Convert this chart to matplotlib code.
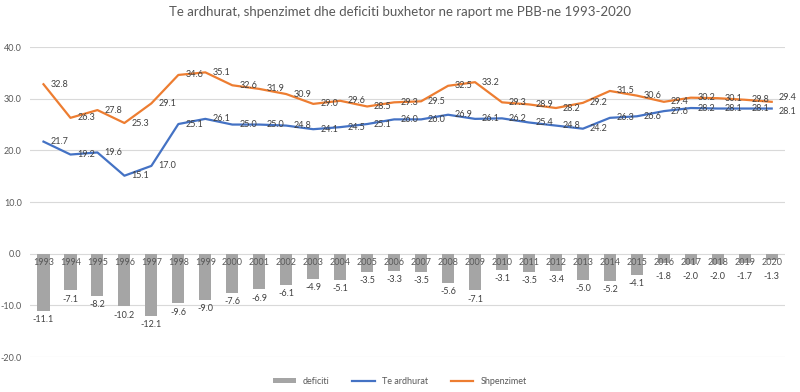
import matplotlib
matplotlib.use('agg')
import matplotlib.pyplot as plt
import numpy as np

years = [str(y) for y in range(1993, 2021)]
shpenzimet = [32.8, 26.3, 27.8, 25.3, 29.1, 34.6, 35.1, 32.6, 31.9, 30.9, 29.0, 29.6, 28.5, 29.3,
              29.5, 32.5, 33.2, 29.3, 28.9, 28.2, 29.2, 31.5, 30.6, 29.4, 30.2, 30.1, 29.8, 29.4]
te_ardhurat = [21.7, 19.2, 19.6, 15.1, 17.0, 25.1, 26.1, 25.0, 25.0, 24.8, 24.1, 24.5, 25.1, 26.0,
               26.0, 26.9, 26.1, 26.2, 25.4, 24.8, 24.2, 26.3, 26.6, 27.6, 28.2, 28.1, 28.1, 28.1]
deficiti = [-11.1, -7.1, -8.2, -10.2, -12.1, -9.6, -9.0, -7.6, -6.9, -6.1, -4.9, -5.1, -3.5, -3.3,
            -3.5, -5.6, -7.1, -3.1, -3.5, -3.4, -5.0, -5.2, -4.1, -1.8, -2.0, -2.0, -1.7, -1.3]

plt.rcParams['font.family'] = ['Lato', 'DejaVu Sans']
txt = '#595959'

fig = plt.figure(figsize=(8, 3.92), dpi=100)
ax = fig.add_axes([0.0375, 0.089, 0.944, 0.791])
x = np.arange(len(years))

bars = ax.bar(x, deficiti, width=0.45, color='#A5A5A5', label='deficiti', zorder=2)
l1, = ax.plot(x, te_ardhurat, color='#4472C4', lw=1.6, label='Te ardhurat', zorder=3)
l2, = ax.plot(x, shpenzimet, color='#ED7D31', lw=1.6, label='Shpenzimet', zorder=3)

last = len(years) - 1
# data labels
for i in x:
    dy_s = 3 if i == last else 0
    dy_r = -2 if i == last else 0
    ax.annotate(f'{shpenzimet[i]:.1f}', (i, shpenzimet[i]), xytext=(5, dy_s), textcoords='offset points',
                ha='left', va='center', fontsize=6.5, color='#404040', zorder=4)
    ax.annotate(f'{te_ardhurat[i]:.1f}', (i, te_ardhurat[i]), xytext=(5, dy_r), textcoords='offset points',
                ha='left', va='center', fontsize=6.5, color='#404040', zorder=4)
    # keep short-bar labels clear of the year labels
    ax.annotate(f'{deficiti[i]:.1f}', (i, min(deficiti[i], -2.7)), xytext=(0, -3), textcoords='offset points',
                ha='center', va='top', fontsize=6.5, color='#404040', zorder=4)
    # category labels sit on the zero line
    ax.annotate(years[i], (i, 0), xytext=(0, -3), textcoords='offset points',
                ha='center', va='top', fontsize=6.5, color=txt, zorder=4)

ax.set_xlim(-0.5, len(years) - 0.5)
ax.set_ylim(-20, 40)
ax.set_yticks(np.arange(-20, 41, 10))
ax.set_yticklabels([f'{v:.1f}' for v in np.arange(-20, 41, 10)], fontsize=6.5, color=txt)
ax.set_xticks([])
ax.tick_params(axis='y', length=0, pad=6)
ax.grid(axis='y', color='#D9D9D9', lw=0.8, zorder=0)
for s in ax.spines.values():
    s.set_visible(False)

fig.suptitle('Te ardhurat, shpenzimet dhe deficiti buxhetor ne raport me PBB-ne 1993-2020',
             x=0.5, y=0.985, fontsize=9.5, color=txt)

leg = fig.legend([bars, l1, l2], ['deficiti', 'Te ardhurat', 'Shpenzimet'],
                 loc='center', bbox_to_anchor=(0.5, 0.028), ncol=3, frameon=False,
                 fontsize=6.5, handlelength=2.5, handleheight=0.4, columnspacing=2.5)
for t in leg.get_texts():
    t.set_color(txt)

fig.savefig('out.png')
plt.close()
